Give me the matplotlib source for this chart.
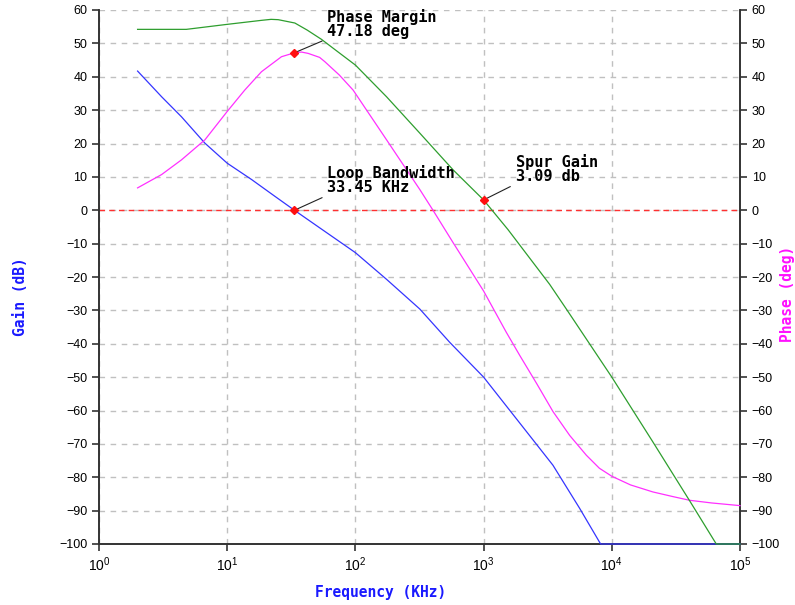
import matplotlib.pyplot as plt
from matplotlib.ticker import LogLocator, LogFormatterMathtext, NullLocator, MultipleLocator

# open loop gain (blue)
gain_freq = [2, 3.08, 4.4, 6.7, 10, 15.5, 23.5, 33.45, 52.8, 100, 175, 318, 545,
             1000, 2030, 3475, 5610, 8180, 100000]
gain_db = [41.7, 34, 28, 20.1, 14.1, 9.2, 4.2, 0, -5.3, -12.7, -20.7, -29.6, -39.6,
           -50.0, -65.0, -76.4, -89.3, -100, -100]

# spur / filter gain (green)
spur_freq = [2, 4.8, 10, 18.5, 22, 25, 33.7, 42, 54.4, 70, 100, 175, 318, 578, 1000,
             1550, 3275, 4420, 10000, 20900, 40400, 65300, 100000]
spur_db = [54.2, 54.2, 55.7, 56.9, 57.2, 57.1, 56.1, 54.0, 51.2, 48.0, 43.5, 34, 23.1,
           12.1, 3.09, -5.8, -22.2, -29.6, -50, -69.4, -87, -100, -100]

# phase (magenta)
phase_freq = [2, 3.08, 4.4, 6.7, 10, 13.7, 18.5, 26.5, 33.45, 38, 42.8, 52.6, 57.8,
              75, 96, 175, 318, 403, 578, 1000, 1500, 1914, 2600, 3475, 4700, 6330,
              8000, 10000, 14000, 20900, 30000, 40400, 60000, 100000]
phase_deg = [6.7, 10.7, 15.1, 21.1, 29.6, 36, 41.5, 46, 47.18, 47.4, 47.0, 45.8, 44.5,
             40.5, 36, 21.1, 6.2, 0, -9.7, -24.2, -36.5, -43.5, -52.0, -60.3, -67.5,
             -73.4, -77.3, -79.7, -82.3, -84.4, -85.8, -86.9, -87.7, -88.5]

loop_bw = (33.45, 0.0)
phase_margin = (33.45, 47.18)
spur_gain = (1000, 3.09)

MONO = "DejaVu Sans Mono"
plt.rcParams["font.family"] = "Liberation Sans"

fig = plt.figure(figsize=(7.95, 6.05), dpi=100)
ax = fig.add_axes([99 / 795, 61 / 605, 641 / 795, 534 / 605])
ax2 = ax.twinx()

for a in (ax, ax2):
    a.set_xscale("log")
    a.set_xlim(1, 1e5)
    a.set_ylim(-100, 60)
    a.yaxis.set_major_locator(MultipleLocator(10))
    a.spines["top"].set_visible(False)
    for s in ("left", "right", "bottom"):
        a.spines[s].set_color("#333333")
        a.spines[s].set_linewidth(1.2)
    a.tick_params(axis="both", which="major", direction="out", length=5,
                  width=1.2, color="#333333", labelsize=9)

ax.xaxis.set_major_locator(LogLocator(base=10, numticks=10))
ax.xaxis.set_major_formatter(LogFormatterMathtext())
ax.xaxis.set_minor_locator(NullLocator())
ax.tick_params(axis="x", labelsize=10)
ax.grid(True, which="major", color="#c0c0c0", linestyle=(0, (4, 4)), linewidth=1)
ax.set_axisbelow(True)

ax.axhline(0, color="#ff3030", linestyle=(0, (4, 3)), linewidth=1)

line_kw = dict(linewidth=0.9, clip_on=False, zorder=3)
ax2.plot(gain_freq, gain_db, color="#3535ff", **line_kw)
ax2.plot(phase_freq, phase_deg, color="#ff30ff", **line_kw)
ax2.plot(spur_freq, spur_db, color="#2e9e2e", **line_kw)

text_kw = dict(textcoords="offset pixels", ha="left", va="bottom", family=MONO,
               fontsize=11, fontweight="bold", linespacing=0.9,
               arrowprops=dict(arrowstyle="-", color="#222222", lw=0.8,
                               relpos=(0, 0), shrinkA=2, shrinkB=0))
for pt, label, off in [
    (phase_margin, "Phase Margin\n47.18 deg", (33, 14)),
    (loop_bw, "Loop Bandwidth\n33.45 KHz", (33, 15)),
    (spur_gain, "Spur Gain\n3.09 db", (32, 16)),
]:
    ax2.plot(pt[0], pt[1], marker="D", markersize=4, color="#ff1010", zorder=5)
    ax2.annotate(label, xy=pt, xytext=off, **text_kw)

ax.set_xlabel("Frequency (KHz)", family=MONO, fontsize=10.5, fontweight="bold",
              color="#1a1aff")
ax.xaxis.set_label_coords(0.439, -0.077)
ax.set_ylabel("Gain (dB)", family=MONO, fontsize=10.5, fontweight="bold",
              color="#1a1aff")
ax.yaxis.set_label_coords(-0.11, 0.4625)
ax2.set_ylabel("Phase (deg)", family=MONO, fontsize=10.5, fontweight="bold",
               color="#ff10ff")
ax2.yaxis.set_label_coords(1.063, 0.468)

fig.savefig("out.png", dpi=100)
